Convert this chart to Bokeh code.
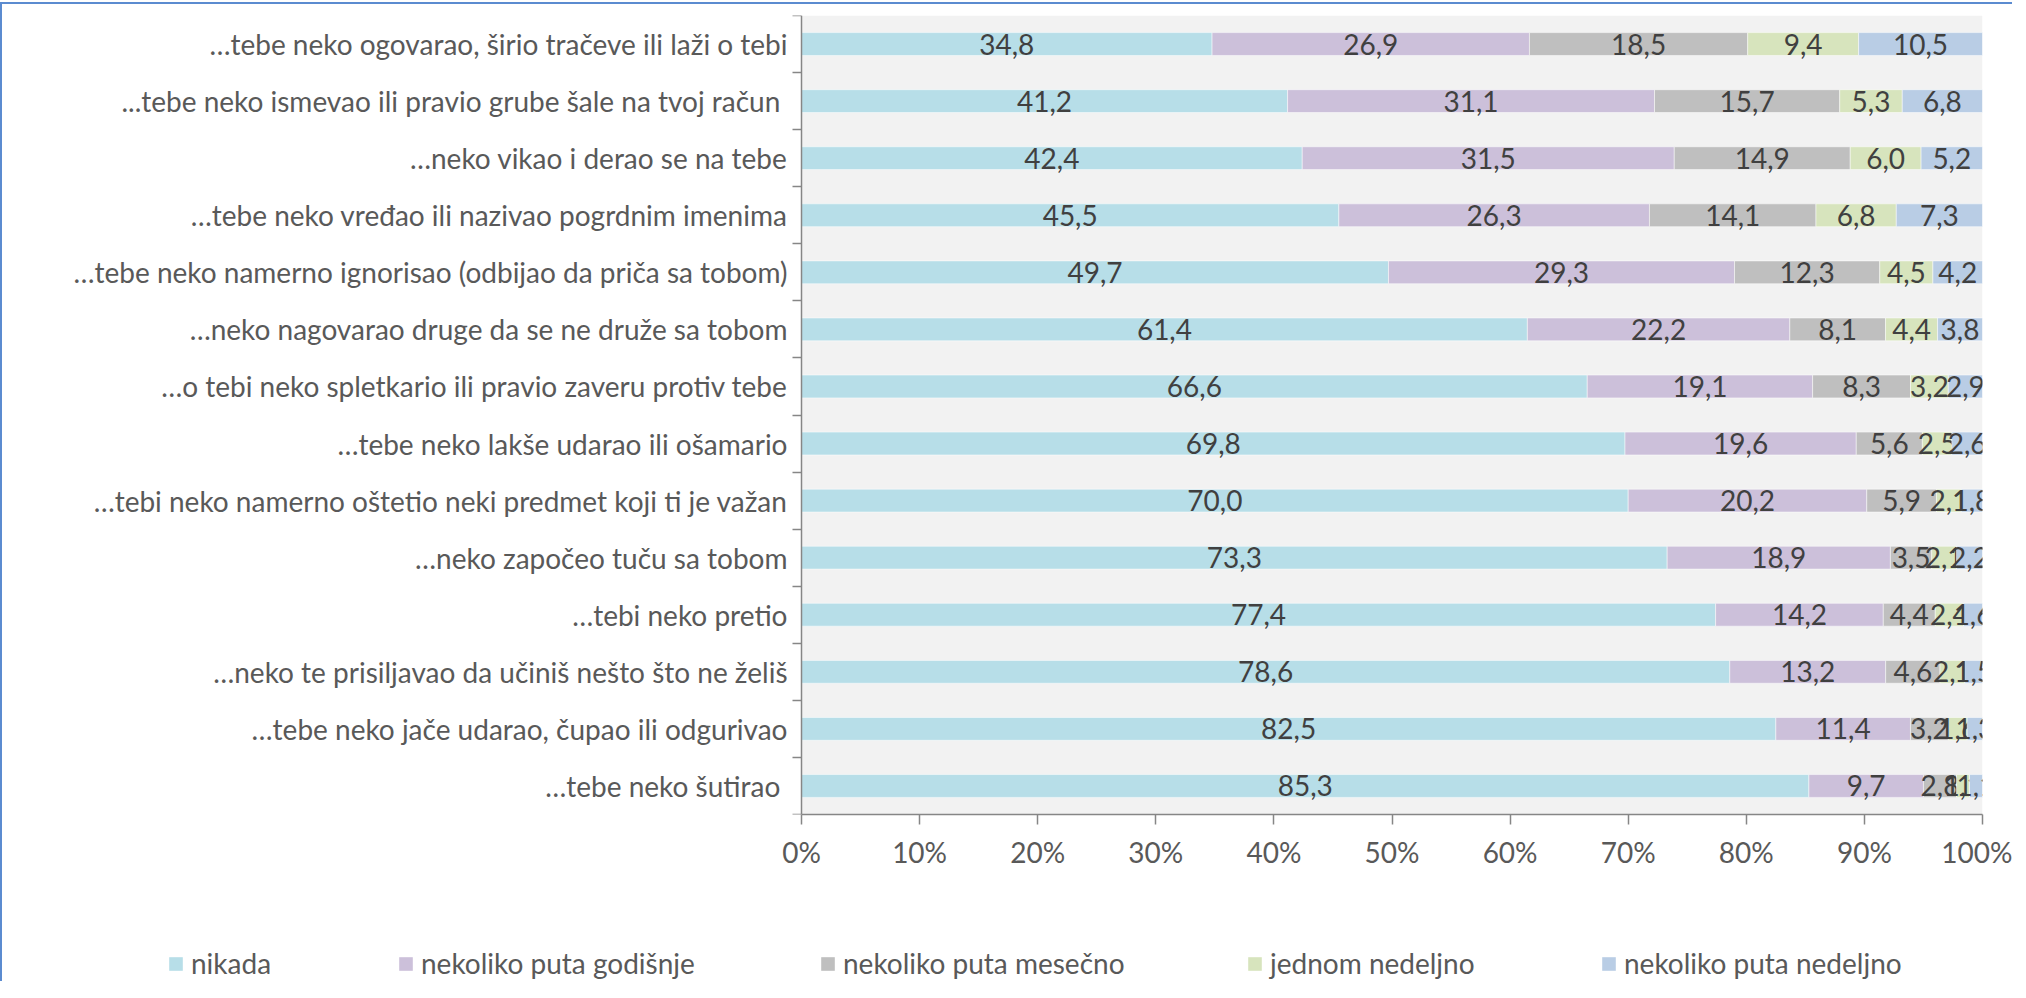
from bokeh.plotting import figure
from bokeh.models import Range1d, FixedTicker, Legend, LegendItem, ColumnDataSource, BoxAnnotation
from bokeh.layouts import column
from bokeh.core.properties import value
from bokeh.embed import file_html
from bokeh.resources import INLINE

categories = [
    "…tebe neko ogovarao, širio tračeve ili laži o tebi",
    "...tebe  neko ismevao ili pravio grube šale na tvoj račun",
    "…neko vikao i derao se na tebe",
    "…tebe neko vređao ili nazivao pogrdnim imenima",
    "…tebe neko namerno ignorisao (odbijao da priča sa tobom)",
    "…neko nagovarao druge da se ne druže sa tobom",
    "…o tebi neko spletkario ili pravio zaveru protiv tebe",
    "…tebe neko lakše udarao ili ošamario",
    "…tebi neko namerno oštetio neki predmet koji ti je važan",
    "…neko započeo tuču sa tobom",
    "…tebi neko pretio",
    "…neko te prisiljavao da učiniš nešto što ne želiš",
    "…tebe neko jače udarao, čupao ili odgurivao",
    "…tebe  neko šutirao",
]
series_names = ["nikada", "nekoliko puta godišnje", "nekoliko puta mesečno",
                "jednom nedeljno", "nekoliko puta nedeljno"]
nikada = [34.8, 41.2, 42.4, 45.5, 49.7, 61.4, 66.6, 69.8, 70.0, 73.3, 77.4, 78.6, 82.5, 85.3]
godisnje = [26.9, 31.1, 31.5, 26.3, 29.3, 22.2, 19.1, 19.6, 20.2, 18.9, 14.2, 13.2, 11.4, 9.7]
mesecno = [18.5, 15.7, 14.9, 14.1, 12.3, 8.1, 8.3, 5.6, 5.9, 3.5, 4.4, 4.6, 3.2, 2.8]
jednom = [9.4, 5.3, 6.0, 6.8, 4.5, 4.4, 3.2, 2.5, 2.1, 2.1, 2.4, 2.1, 1.6, 1.1]
nedeljno = [10.5, 6.8, 5.2, 7.3, 4.2, 3.8, 2.9, 2.6, 1.8, 2.2, 1.6, 1.5, 1.3, 1.1]
x_tick_labels = ["0%", "10%", "20%", "30%", "40%", "50%", "60%", "70%", "80%", "90%", "100%"]

colors = ["#B7DEE8", "#CCC0DA", "#BFBFBF", "#D7E4BD", "#B9CDE5"]
FONT = "Lato"
FS = "28px"
TXT = "#595959"
AX = "#868686"

series = [nikada, godisnje, mesecno, jednom, nedeljno]
n = len(categories)
ypos = [n - 0.5 - i for i in range(n)]
totals = [sum(s[i] for s in series) for i in range(n)]

# layout geometry (pixels); figures start at page x=10, y=12
OX = 10
W = 2010
BL = 40                 # frame left border
AX0 = 809 - OX          # where 0% sits, from figure left
RB = W - (1990 - OX)    # frame right border
frame_w = W - BL - RB
x_start = -(AX0 - BL) / (frame_w - (AX0 - BL))

p = figure(width=W, height=867, output_backend="svg", toolbar_location=None,
           x_range=Range1d(x_start, 1), y_range=Range1d(0, n),
           min_border_left=BL, min_border_top=11, min_border_right=RB,
           min_border_bottom=56)
p.background_fill_color = "white"
p.border_fill_color = "white"
p.outline_line_color = None
p.xgrid.visible = False
p.ygrid.visible = False
p.add_layout(BoxAnnotation(left=0, right=1, bottom=0, top=n, fill_color="#F2F2F2",
                           fill_alpha=1, line_color=None, level="underlay"))

left = [0.0] * n
for k, s in enumerate(series):
    l = list(left)
    r = [left[i] + s[i] / totals[i] for i in range(n)]
    mid = [(l[i] + r[i]) / 2 for i in range(n)]
    src = ColumnDataSource(dict(y=ypos, left=l, right=r, mid=mid,
                                lab=[f"{v:.1f}".replace(".", ",") for v in s]))
    p.hbar(y="y", left="left", right="right", height=0.4, source=src,
           fill_color=colors[k], line_color="white", line_width=0.5)
    p.text(x="mid", y="y", text="lab", source=src, text_align="center",
           text_baseline="middle", text_font=value(FONT), text_font_size=FS,
           text_color="#404040")
    left = r

# category labels (left of the category axis)
csrc = ColumnDataSource(dict(x=[0.0] * n, y=ypos, t=categories))
p.text(x="x", y="y", text="t", source=csrc, x_offset=-14, text_align="right",
       text_baseline="middle", text_font=value(FONT), text_font_size=FS,
       text_color=TXT)

# x axis
xa = p.xaxis[0]
xa.bounds = (0, 1)
xa.ticker = FixedTicker(ticks=[i / 10 for i in range(11)], minor_ticks=[])
xa.major_label_overrides = {i / 10: x_tick_labels[i] for i in range(11)}
xa.axis_line_color = AX
xa.axis_line_width = 1.5
xa.major_tick_line_color = AX
xa.major_tick_line_width = 1.5
xa.major_tick_out = 10
xa.major_tick_in = 0
xa.minor_tick_line_color = None
xa.major_label_standoff = 10
xa.major_label_text_font = FONT
xa.major_label_text_font_size = FS
xa.major_label_text_color = TXT

# category axis line with ticks between categories
ya = p.yaxis[0]
ya.fixed_location = 0
ya.ticker = FixedTicker(ticks=[], minor_ticks=list(range(n + 1)))
ya.axis_line_color = AX
ya.axis_line_width = 1.5
ya.major_tick_line_color = None
ya.minor_tick_line_color = AX
ya.minor_tick_line_width = 1.5
ya.minor_tick_out = 9
ya.minor_tick_in = 0

# legend strip
lf = figure(width=W, height=110, output_backend="svg", toolbar_location=None,
            x_range=Range1d(0, 1), y_range=Range1d(0, 1),
            min_border_left=BL, min_border_right=RB, min_border_top=0, min_border_bottom=0)
lf.xaxis.visible = False
lf.yaxis.visible = False
lf.xgrid.visible = False
lf.ygrid.visible = False
lf.outline_line_color = None
lf.background_fill_color = "white"
lf.border_fill_color = "white"
leg_marker_x = [175, 405, 827, 1254, 1608]   # page pixels of legend markers
for k in range(5):
    dummy = lf.hbar(y=[0.5], left=[0], right=[series[k][0] / 100], height=0.4,
                    fill_color=colors[k], line_color=None, visible=False)
    lg = Legend(items=[LegendItem(label=series_names[k], renderers=[dummy])],
                location=(leg_marker_x[k] - OX - BL, 1), orientation="horizontal",
                glyph_width=17, glyph_height=17, label_height=17, label_standoff=7,
                padding=0, margin=0, border_line_color=None, background_fill_alpha=0,
                inactive_fill_alpha=0,
                label_text_font=FONT, label_text_font_size=FS, label_text_color=TXT)
    lf.add_layout(lg, "center")

lay = column(p, lf, spacing=0)
lay.styles = {"border-left": "2px solid #5B8BD0", "border-top": "2px solid #5B8BD0",
              "margin-top": "2px"}

open("out.html", "w").write(file_html(lay, INLINE))
